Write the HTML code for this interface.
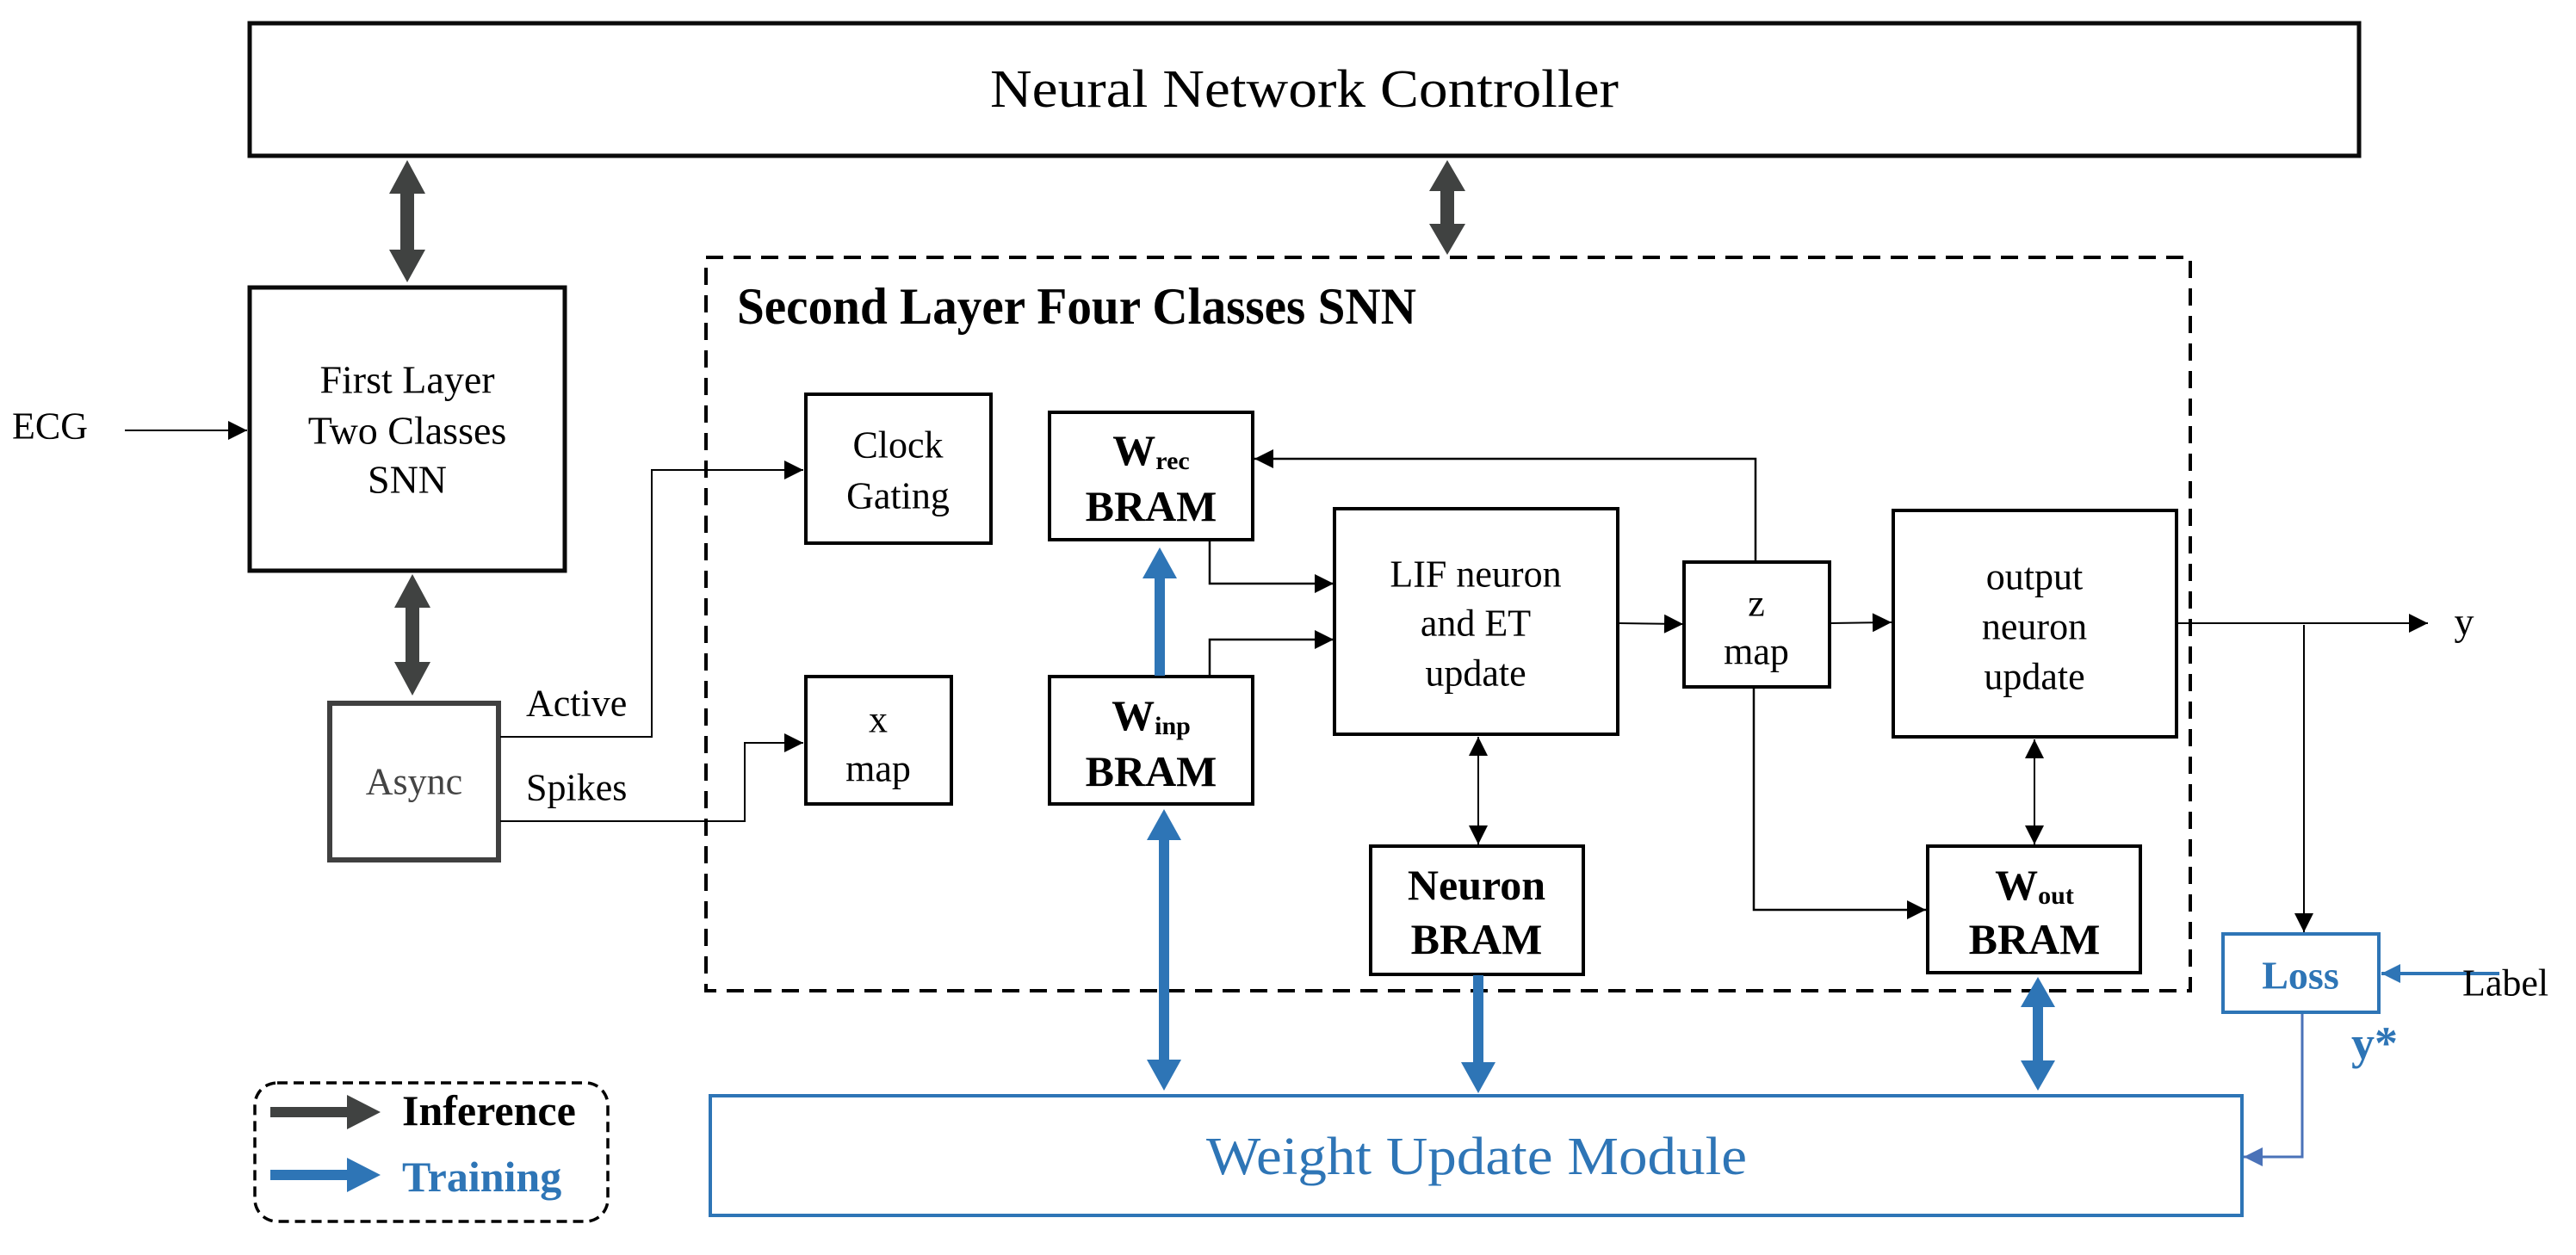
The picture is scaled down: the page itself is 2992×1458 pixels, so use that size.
<!DOCTYPE html>
<html><head><meta charset="utf-8"><style>
html,body{margin:0;padding:0;background:#fff}
svg{display:block}
text{font-family:"Liberation Serif",serif;dominant-baseline:central;text-anchor:middle}
</style></head><body>
<svg width="2992" height="1458" viewBox="0 0 2992 1458" xmlns="http://www.w3.org/2000/svg">
<defs>
<marker id="a" viewBox="0 0 10 10" markerWidth="26" markerHeight="22" refX="10" refY="5" orient="auto-start-reverse" markerUnits="userSpaceOnUse"><path d="M0,0 L10,5 L0,10 z" fill="#000"/></marker>
<marker id="ablue" viewBox="0 0 10 10" markerWidth="26" markerHeight="22" refX="10" refY="5" orient="auto-start-reverse" markerUnits="userSpaceOnUse"><path d="M0,0 L10,5 L0,10 z" fill="#2e75b6"/></marker>
<marker id="ablue2" viewBox="0 0 10 10" markerWidth="26" markerHeight="22" refX="10" refY="5" orient="auto-start-reverse" markerUnits="userSpaceOnUse"><path d="M0,0 L10,5 L0,10 z" fill="#4a72b8"/></marker>
</defs>

<rect x="290" y="27" width="2450" height="154" fill="none" stroke="#0a0a0a" stroke-width="5"/>
<text x="1515" y="104" font-size="62" textLength="730" lengthAdjust="spacingAndGlyphs">Neural Network Controller</text>

<g fill="#404241">
<polygon points="473,186 494,225 481,225 481,290 494,290 473,328 452,290 465,290 465,225 452,225"/>
<polygon points="479,667 500,706 487,706 487,769 500,769 479,808 458,769 471,769 471,706 458,706"/>
<polygon points="1681,186 1702,222 1689,222 1689,260 1702,260 1681,296 1660,260 1673,260 1673,222 1660,222"/>
</g>

<rect x="290" y="334" width="366" height="329" fill="none" stroke="#0a0a0a" stroke-width="5"/>
<text x="473" y="441" font-size="46">First Layer</text>
<text x="473" y="500" font-size="46">Two Classes</text>
<text x="473" y="557" font-size="46">SNN</text>

<text x="14" y="495" font-size="44" style="text-anchor:start">ECG</text>
<line x1="145" y1="500" x2="287" y2="500" stroke="#000" stroke-width="2" marker-end="url(#a)"/>

<rect x="383" y="817" width="196" height="182" fill="none" stroke="#404040" stroke-width="6"/>
<text x="481" y="908" font-size="44" fill="#444">Async</text>
<text x="611" y="817" font-size="44" style="text-anchor:start">Active</text>
<text x="611" y="915" font-size="44" style="text-anchor:start">Spikes</text>
<polyline points="581,856 757,856 757,546 933,546" fill="none" stroke="#000" stroke-width="2" marker-end="url(#a)"/>
<polyline points="581,954 865,954 865,863 933,863" fill="none" stroke="#000" stroke-width="2" marker-end="url(#a)"/>

<rect x="820" y="299" width="1724" height="852" fill="none" stroke="#000" stroke-width="4" stroke-dasharray="20,12"/>
<text x="856" y="356" font-size="60" font-weight="bold" style="text-anchor:start" textLength="789" lengthAdjust="spacingAndGlyphs">Second Layer Four Classes SNN</text>

<rect x="936" y="458" width="215" height="173" fill="none" stroke="#000" stroke-width="4"/>
<text x="1043" y="517" font-size="44">Clock</text>
<text x="1043" y="576" font-size="44">Gating</text>

<rect x="936" y="786" width="169" height="148" fill="none" stroke="#000" stroke-width="4"/>
<text x="1020" y="836" font-size="44">x</text>
<text x="1020" y="893" font-size="44">map</text>

<rect x="1219" y="479" width="236" height="148" fill="none" stroke="#000" stroke-width="4"/>
<text x="1337" y="523" font-size="50" font-weight="bold"><tspan>W</tspan><tspan font-size="30" dy="12">rec</tspan></text>
<text x="1337" y="588" font-size="50" font-weight="bold">BRAM</text>

<rect x="1219" y="786" width="236" height="148" fill="none" stroke="#000" stroke-width="4"/>
<text x="1337" y="831" font-size="50" font-weight="bold"><tspan>W</tspan><tspan font-size="30" dy="12">inp</tspan></text>
<text x="1337" y="896" font-size="50" font-weight="bold">BRAM</text>

<rect x="1550" y="591" width="329" height="262" fill="none" stroke="#000" stroke-width="4"/>
<text x="1714" y="667" font-size="44">LIF neuron</text>
<text x="1714" y="724" font-size="44">and ET</text>
<text x="1714" y="782" font-size="44">update</text>

<polyline points="1405,628 1405,678 1549,678" fill="none" stroke="#000" stroke-width="2.5" marker-end="url(#a)"/>
<polyline points="1405,785 1405,743 1549,743" fill="none" stroke="#000" stroke-width="2.5" marker-end="url(#a)"/>

<rect x="1956" y="653" width="169" height="145" fill="none" stroke="#000" stroke-width="4"/>
<text x="2040" y="701" font-size="44">z</text>
<text x="2040" y="757" font-size="44">map</text>
<line x1="1880" y1="724" x2="1955" y2="725" stroke="#000" stroke-width="2" marker-end="url(#a)"/>
<polyline points="2039,652 2039,533 1457,533" fill="none" stroke="#000" stroke-width="2.5" marker-end="url(#a)"/>
<line x1="2126" y1="724" x2="2197" y2="723" stroke="#000" stroke-width="2" marker-end="url(#a)"/>
<polyline points="2037,799 2037,1057 2237,1057" fill="none" stroke="#000" stroke-width="2.5" marker-end="url(#a)"/>

<rect x="2199" y="593" width="329" height="263" fill="none" stroke="#000" stroke-width="4"/>
<text x="2363" y="670" font-size="44">output</text>
<text x="2363" y="728" font-size="44">neuron</text>
<text x="2363" y="786" font-size="44">update</text>

<line x1="2529" y1="724" x2="2820" y2="724" stroke="#000" stroke-width="2" marker-end="url(#a)"/>
<text x="2862" y="722" font-size="46">y</text>
<line x1="2676" y1="726" x2="2676" y2="1083" stroke="#000" stroke-width="2" marker-end="url(#a)"/>

<rect x="1592" y="983" width="247" height="149" fill="none" stroke="#000" stroke-width="4"/>
<text x="1715" y="1028" font-size="50" font-weight="bold">Neuron</text>
<text x="1715" y="1091" font-size="50" font-weight="bold">BRAM</text>
<line x1="1717" y1="856" x2="1717" y2="981" stroke="#000" stroke-width="2" marker-start="url(#a)" marker-end="url(#a)"/>

<rect x="2239" y="983" width="247" height="147" fill="none" stroke="#000" stroke-width="4"/>
<text x="2363" y="1028" font-size="50" font-weight="bold"><tspan>W</tspan><tspan font-size="30" dy="12">out</tspan></text>
<text x="2363" y="1091" font-size="50" font-weight="bold">BRAM</text>
<line x1="2363" y1="859" x2="2363" y2="981" stroke="#000" stroke-width="2" marker-start="url(#a)" marker-end="url(#a)"/>

<g fill="#2e75b6">
<polygon points="1347,636 1367,672 1353,672 1353,785 1341,785 1341,672 1327,672"/>
<polygon points="1352,940 1372,976 1358,976 1358,1231 1372,1231 1352,1267 1332,1231 1346,1231 1346,976 1332,976"/>
<polygon points="1717,1133 1723,1133 1723,1234 1737,1234 1717,1270 1697,1234 1711,1234 1711,1133"/>
<polygon points="2367,1135 2387,1170 2373,1170 2373,1232 2387,1232 2367,1267 2347,1232 2361,1232 2361,1170 2347,1170"/>
</g>

<rect x="825" y="1273" width="1779" height="139" fill="none" stroke="#2e75b6" stroke-width="4"/>
<text x="1715" y="1344" font-size="62" fill="#2e75b6" textLength="628" lengthAdjust="spacingAndGlyphs">Weight Update Module</text>

<rect x="2582" y="1085" width="181" height="91" fill="none" stroke="#2e75b6" stroke-width="4"/>
<text x="2672" y="1133" font-size="46" font-weight="bold" fill="#2e75b6">Loss</text>
<line x1="2903" y1="1131" x2="2766" y2="1131" stroke="#2e75b6" stroke-width="4" marker-end="url(#ablue)"/>
<text x="2860" y="1142" font-size="44" style="text-anchor:start">Label</text>
<text x="2731" y="1212" font-size="54" font-weight="bold" fill="#2e75b6" style="text-anchor:start">y*</text>
<polyline points="2674,1178 2674,1344 2606,1344" fill="none" stroke="#4a72b8" stroke-width="3" marker-end="url(#ablue2)"/>

<rect x="296" y="1258" width="410" height="161" rx="26" ry="26" fill="none" stroke="#000" stroke-width="3.5" stroke-dasharray="12,7"/>
<polygon points="314,1286 403,1286 403,1272 442,1292 403,1312 403,1298 314,1298" fill="#404241"/>
<polygon points="314,1359 403,1359 403,1345 442,1365 403,1385 403,1371 314,1371" fill="#2e75b6"/>
<text x="467" y="1290" font-size="50" font-weight="bold" style="text-anchor:start">Inference</text>
<text x="467" y="1367" font-size="50" font-weight="bold" fill="#2e75b6" style="text-anchor:start">Training</text>
</svg>
</body></html>
